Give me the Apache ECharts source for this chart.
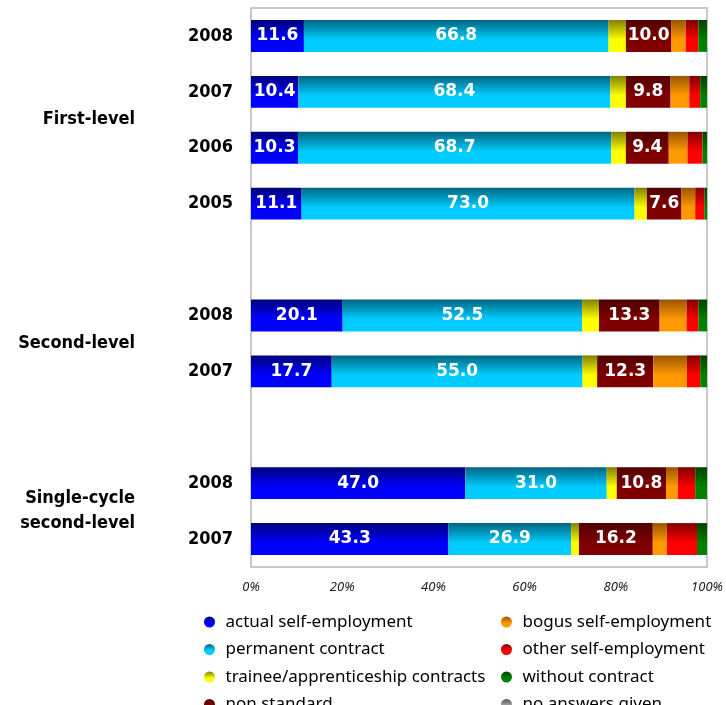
<!DOCTYPE html>
<html>
<head>
<meta charset="utf-8">
<script src="https://cdn.jsdelivr.net/npm/echarts@6/dist/echarts.min.js"></script>
<style>
html, body { margin: 0; padding: 0; background: #fff; }
#chart { width: 726px; height: 705px; }
</style>
</head>
<body>
<div id="chart"></div>
<script>
// rows top to bottom, '' = spacer between groups
const categories = ['2008', '2007', '2006', '2005', '', '2008', '2007', '', '2008', '2007'];
// group label sits at this position on a 0..10 scale (between two rows)
const groupLabels = { 2: 'First-level', 6: 'Second-level', 9: 'Single-cycle\nsecond-level' };

const actualSelf   = [11.6, 10.4, 10.3, 11.1, null, 20.1, 17.7, null, 47.0, 43.3];
const permanent    = [66.8, 68.4, 68.7, 73.0, null, 52.5, 55.0, null, 31.0, 26.9];
const trainee      = [3.8, 3.4, 3.2, 2.7, null, 3.7, 3.2, null, 2.2, 1.7];
const nonStandard  = [10.0, 9.8, 9.4, 7.6, null, 13.3, 12.3, null, 10.8, 16.2];
const bogusSelf    = [3.1, 4.1, 4.1, 3.0, null, 5.9, 7.4, null, 2.6, 3.1];
const otherSelf    = [2.8, 2.4, 3.3, 2.0, null, 2.6, 2.9, null, 3.8, 6.6];
const noContract   = [1.9, 1.5, 1.0, 0.6, null, 1.9, 1.5, null, 2.6, 2.2];
const noAnswer     = [0, 0, 0, 0, null, 0, 0, null, 0, 0];

const xTicks = [0, 20, 40, 60, 80, 100];

const legendLeft = ['actual self-employment', 'permanent contract', 'trainee/apprenticeship contracts', 'non standard'];
const legendRight = ['bogus self-employment', 'other self-employment', 'without contract', 'no answers given'];

const grad = (top, bottom) => new echarts.graphic.LinearGradient(0, 0, 0, 1, [
    { offset: 0, color: top },
    { offset: 0.62, color: bottom },
    { offset: 1, color: bottom }
]);

const barLabel = {
    show: true,
    position: 'inside',
    color: '#fff',
    fontFamily: 'DejaVu Sans',
    fontWeight: 'bold',
    fontSize: 17,
    formatter: p => p.value.toFixed(1)
};

const mkSeries = (name, data, top, bottom, labelled) => ({
    name: name,
    type: 'bar',
    stack: 'total',
    data: data,
    barCategoryGap: '43%',
    itemStyle: { color: grad(top, bottom) },
    label: labelled ? barLabel : { show: false },
    animation: false
});

const mkLegend = (left, names) => ({
    orient: 'vertical',
    left: left, top: 613,
    height: 140,
    padding: 0,
    itemWidth: 22, itemHeight: 11, itemGap: 9.5,
    icon: 'circle',
    textStyle: { fontFamily: 'Noto Sans', fontSize: 17, lineHeight: 18, color: '#000' },
    data: names
});

const chart = echarts.init(document.getElementById('chart'));
chart.setOption({
    animation: false,
    grid: {
        left: 251, top: 8, right: 16, bottom: 138,
        show: true,
        backgroundColor: 'transparent',
        borderColor: '#c8c8c8',
        borderWidth: 2
    },
    xAxis: {
        type: 'value',
        min: xTicks[0],
        max: xTicks[xTicks.length - 1],
        interval: 20,
        axisLine: { show: false },
        axisTick: { show: false },
        splitLine: { show: false },
        axisLabel: {
            formatter: '{value}%',
            fontFamily: 'Noto Sans',
            fontStyle: 'italic',
            fontSize: 13,
            color: '#222',
            margin: 14
        }
    },
    yAxis: [{
        type: 'category',
        inverse: true,
        data: categories,
        axisLine: { show: false },
        axisTick: { show: false },
        splitLine: { show: false },
        axisLabel: {
            fontFamily: '"DejaVu Sans Condensed", "DejaVu Sans"',
            fontWeight: 'bold',
            fontSize: 18,
            color: '#000',
            margin: 18
        }
    }, {
        type: 'value',
        position: 'left',
        inverse: true,
        min: 0,
        max: categories.length,
        interval: 1,
        axisLine: { show: false },
        axisTick: { show: false },
        splitLine: { show: false },
        axisLabel: {
            formatter: v => groupLabels[v] || '',
            fontFamily: '"DejaVu Sans Condensed", "DejaVu Sans"',
            fontWeight: 'bold',
            fontSize: 18,
            lineHeight: 25,
            color: '#000',
            align: 'right',
            margin: 116
        }
    }],
    legend: [mkLegend(204, legendLeft), mkLegend(501, legendRight)],
    series: [
        mkSeries('actual self-employment', actualSelf, '#00007a', '#0000ff', true),
        mkSeries('permanent contract', permanent, '#00657f', '#00ccff', true),
        mkSeries('trainee/apprenticeship contracts', trainee, '#808000', '#ffff00', false),
        mkSeries('non standard', nonStandard, '#500000', '#800000', true),
        mkSeries('bogus self-employment', bogusSelf, '#995500', '#ff9900', false),
        mkSeries('other self-employment', otherSelf, '#800000', '#ff0000', false),
        mkSeries('without contract', noContract, '#004000', '#008000', false),
        mkSeries('no answers given', noAnswer, '#555555', '#aaaaaa', false)
    ]
});
</script>
</body>
</html>
